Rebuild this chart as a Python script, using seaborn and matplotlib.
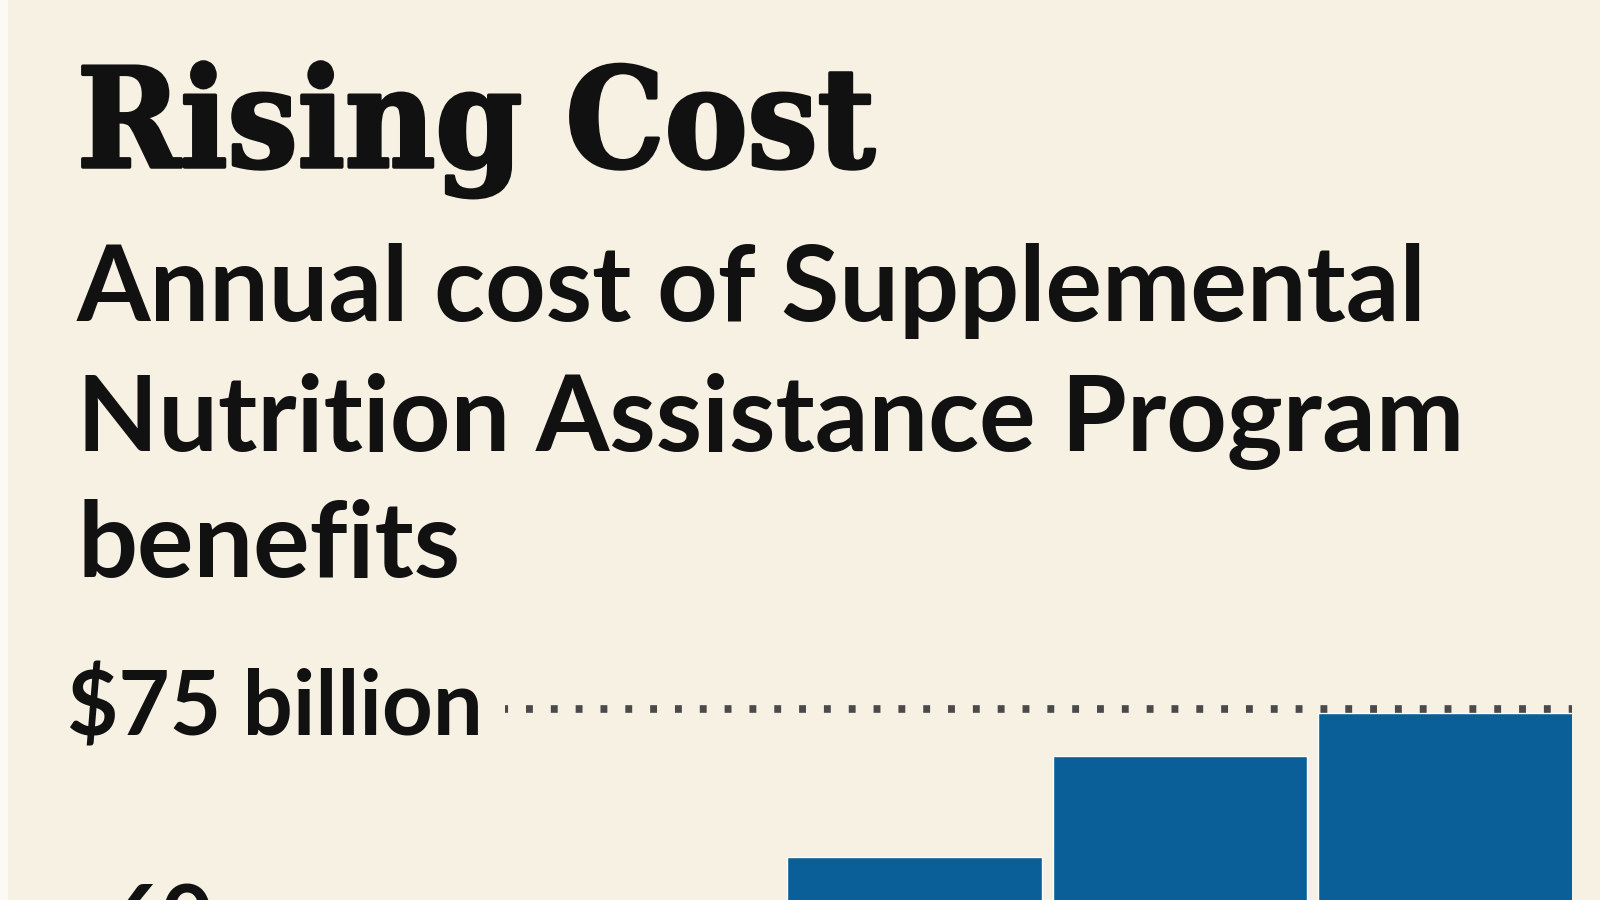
import matplotlib
matplotlib.use("Agg")
import matplotlib.pyplot as plt
import matplotlib.transforms as mtransforms
import matplotlib.patheffects as pe
from matplotlib.patches import Rectangle
import seaborn as sns

# -------------------------------
# Data
# -------------------------------
years = ["2010", "2011", "2012"]
cost_billions = [64.6, 71.7, 74.7]
tick_values = [75, 60]
tick_labels = ["$75 billion", "60"]

title = "Rising Cost"
subtitle_lines = ["Annual cost of Supplemental",
                  "Nutrition Assistance Program",
                  "benefits"]

# -------------------------------
# Style
# -------------------------------
bg = "#F6F1E3"
bar_blue = "#0A5F98"
ink = "#111111"

sns.set_theme(style="white")
plt.rcParams["font.family"] = ["Lato", "DejaVu Sans"]

W, H = 1600, 900
fig = plt.figure(figsize=(16, 9), dpi=100, facecolor=bg)
renderer = fig.canvas.get_renderer()

# faint lighter strip on the left edge
fig.patches.append(Rectangle((0, 0), 8 / W, 1, transform=fig.transFigure,
                             facecolor="#FCFAF4", edgecolor="none", zorder=0))


def px_y(y):
    return 1 - y / H


def fit(t, width_px):
    w = t.get_window_extent(renderer).width
    t.set_fontsize(t.get_fontsize() * width_px / w)


# -------------------------------
# Title and subtitle
# -------------------------------
t = fig.text(77 / W, px_y(167), title, fontsize=110, fontweight="bold",
             family=["DejaVu Serif"], fontstretch="condensed",
             color=ink, va="baseline", ha="left",
             path_effects=[pe.withStroke(linewidth=2.5, foreground=ink)])
fit(t, 798)

sub_baselines = [321, 451, 577]
subs = []
for line, yb in zip(subtitle_lines, sub_baselines):
    s = fig.text(77 / W, px_y(yb), line, fontsize=70, fontweight="bold",
                 color=ink, va="baseline", ha="left")
    subs.append(s)
fit(subs[1], 1388)
for s in subs:
    s.set_fontsize(subs[1].get_fontsize())

# -------------------------------
# Bars
# -------------------------------
# pixel frame of the plot area
x_left, x_right = 505, 1572
y75, y60 = 709, 923
px_per_unit = (y60 - y75) / 15.0
ytop = 76.0
ybot = 75 - (H - y75) / px_per_unit
ax_h = (ytop - ybot) * px_per_unit / H

ax = fig.add_axes([x_left / W, 0, (x_right - x_left) / W, ax_h])
ax.set_facecolor("none")
sns.barplot(x=years, y=cost_billions, color=bar_blue, saturation=1,
            width=0.957, ax=ax, zorder=2)

pitch = 265.5
c0 = 914.5
ax.set_xlim(-(c0 - x_left) / pitch, 2 + (x_right - (c0 + 2 * pitch)) / pitch)
ax.set_ylim(ybot, ytop)
ax.axis("off")

# dotted reference line at the top value
ax.axhline(tick_values[0], color="#4A4A4A", linewidth=5.5,
           linestyle=(0.5, (0.9, 2.35)), zorder=3)

# -------------------------------
# Y labels
# -------------------------------
trans = mtransforms.blended_transform_factory(fig.transFigure, ax.transData)
trans = mtransforms.offset_copy(trans, fig=fig, y=-27 * 72 / 100, units="points")

lab75 = ax.text(67 / W, tick_values[0], tick_labels[0], transform=trans,
                fontsize=62, fontweight="bold", color=ink,
                ha="left", va="baseline", clip_on=False)
fit(lab75, 416)
ax.text(213 / W, tick_values[1], tick_labels[1], transform=trans,
        fontsize=lab75.get_fontsize(), fontweight="bold", color=ink,
        ha="right", va="baseline", clip_on=False)

fig.savefig("out.png", dpi=100, facecolor=bg)
